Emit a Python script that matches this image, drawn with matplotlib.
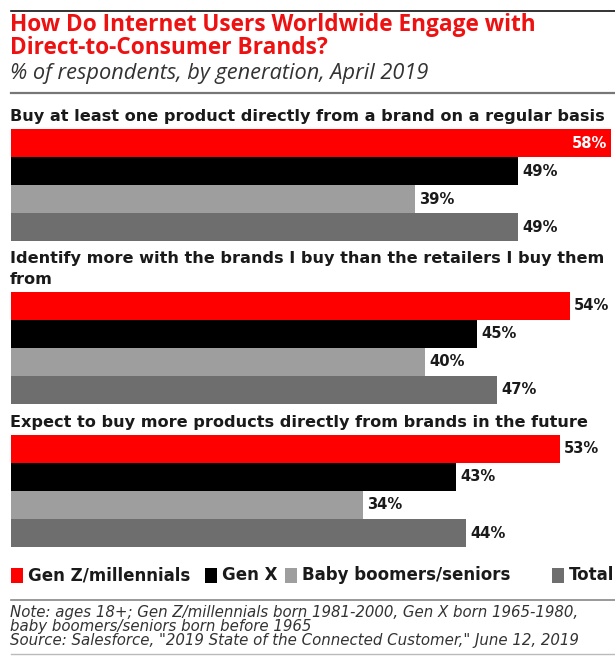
import matplotlib.pyplot as plt
from matplotlib.lines import Line2D
from matplotlib.patches import Rectangle

W, H = 615, 662

TITLE = ["How Do Internet Users Worldwide Engage with", "Direct-to-Consumer Brands?"]
SUBTITLE = "% of respondents, by generation, April 2019"

questions = [
    ["Buy at least one product directly from a brand on a regular basis"],
    ["Identify more with the brands I buy than the retailers I buy them", "from"],
    ["Expect to buy more products directly from brands in the future"],
]
series = ["Gen Z/millennials", "Gen X", "Baby boomers/seniors", "Total"]
values = [
    [58, 49, 39, 49],
    [54, 45, 40, 47],
    [53, 43, 34, 44],
]
colors = ["#ff0000", "#000000", "#9e9e9e", "#6e6e6e"]

NOTES = [
    "Note: ages 18+; Gen Z/millennials born 1981-2000, Gen X born 1965-1980,",
    "baby boomers/seniors born before 1965",
    'Source: Salesforce, "2019 State of the Connected Customer," June 12, 2019',
]

BOLD = ["DejaVu Sans"]
LIGHT = ["Open Sans", "DejaVu Sans"]
TEXT_DARK = "#1a1a1a"


def fx(px):
    return px / W


def fy(py):
    return 1 - py / H


fig = plt.figure(figsize=(W / 100, H / 100), dpi=100)

# header rules
fig.add_artist(Line2D([fx(11), 1], [fy(11), fy(11)], color="#111111", lw=1.2))
fig.add_artist(Line2D([fx(11), 1], [fy(93), fy(93)], color="#777777", lw=1.6))

for y, line in zip([25, 48], TITLE):
    fig.text(fx(10), fy(y), line, color="#ee1111", fontsize=16.3, fontweight="bold",
             family=LIGHT, va="center", ha="left")
fig.text(fx(10), fy(73), SUBTITLE, color="#333333", fontsize=15.7, style="italic",
         family=LIGHT, va="center", ha="left")

# vertical layout of each block (pixels): first label line, bar top
label_y = [116, 259, 422]
bar_top = [129, 292, 435]
bar_px = 28
x0_px = 11
px_per_pct = 10.35
xmax = (W - x0_px) / px_per_pct

for qi, lines in enumerate(questions):
    for li, line in enumerate(lines):
        fig.text(fx(10), fy(label_y[qi] + 20 * li), line, fontsize=11.6,
                 fontweight="bold", family=BOLD, color=TEXT_DARK,
                 va="center", ha="left")
    top = bar_top[qi]
    bottom = top + bar_px * len(series)
    ax = fig.add_axes([fx(x0_px), fy(bottom), 1 - fx(x0_px), (bottom - top) / H])
    ypos = list(range(len(series)))
    bars = ax.barh(ypos, values[qi], height=1.0, color=colors, linewidth=0)
    ax.set_xlim(0, xmax)
    ax.set_ylim(len(series) - 0.5, -0.5)
    ax.axis("off")
    for bar, v in zip(bars, values[qi]):
        yc = bar.get_y() + bar.get_height() / 2
        # no room to the right of the longest bar: put its label inside
        if v + 4 > xmax:
            ax.annotate(f"{v}%", xy=(v, yc), xytext=(-3, 0), textcoords="offset points",
                        ha="right", va="center", fontsize=10.6, fontweight="bold",
                        family=BOLD, color="white")
        else:
            ax.annotate(f"{v}%", xy=(v, yc), xytext=(3, 0), textcoords="offset points",
                        ha="left", va="center", fontsize=10.6, fontweight="bold",
                        family=BOLD, color=TEXT_DARK)

# legend row
legend_x = [11, 205, 285, 552]
for x, name, c in zip(legend_x, series, colors):
    fig.add_artist(Rectangle((fx(x), fy(583)), fx(12), 15 / H, color=c,
                             transform=fig.transFigure, lw=0))
    fig.text(fx(x + 17), fy(575), name, fontsize=12, fontweight="bold",
             family=BOLD, color=TEXT_DARK, va="center", ha="left")

fig.add_artist(Line2D([fx(11), 1], [fy(600), fy(600)], color="#888888", lw=1.2))
for y, line in zip([612, 626, 640], NOTES):
    fig.text(fx(10), fy(y), line, fontsize=10.8, style="italic", family=["DejaVu Sans"],
             color="#333333", va="center", ha="left")
fig.add_artist(Line2D([fx(11), 1], [fy(654), fy(654)], color="#bbbbbb", lw=1.0))

fig.savefig("out.png", dpi=100)
